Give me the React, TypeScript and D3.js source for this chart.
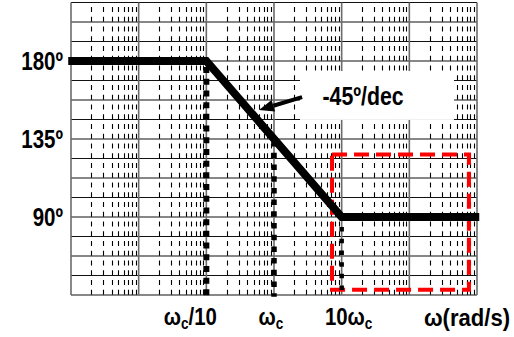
import { useEffect, useRef } from 'react';
import * as d3 from 'd3';

const W = 514;
const H = 337;

// decades of the log frequency axis (omega_c = 1)
const decades = [1e-3, 1e-2, 1e-1, 1, 10, 100, 1000];
const minorSteps = [2, 3, 4, 5, 6, 7, 8, 9];

// phase grid, one line every 11.25 deg
const phaseGrid = [
  45, 56.25, 67.5, 78.75, 90, 101.25, 112.5, 123.75, 135, 146.25, 157.5,
  168.75, 180, 191.25, 202.5, 213.75,
];
const phaseTicks = [180, 135, 90];
const phaseTickLabels = ['180º', '135º', '90º'];

// asymptotic phase curve
const asymW = [0.00091, 0.1, 10, 1080];
const asymPhase = [180, 180, 90, 90];

// dotted guides at the corner frequencies
const guideW = [0.1, 1, 10];
const guideTop = [176.5, 133.8, 84.2];
const guideWidth = [6, 5.5, 4.5];

// x labels: main part, subscript, trailing part
const xLabelW = [0.1, 1, 10];
const xLabelMain = ['ω', 'ω', '10ω'];
const xLabelSub = ['c', 'c', 'c'];
const xLabelTail = ['/10', '', ''];

// highlighted region (red dashed box)
const boxW = [7.2, 760];
const boxPhase = [48, 126];

// slope annotation
const noteBoxW = [2.42, 457];
const notePhase = [146, 174.2];
const noteTextW = 20.7;
const noteTextPhase = 154.6;
const noteText = '-45º/dec';
const arrowFrom = { w: 2.6, p: 159.2 };
const arrowTo = { w: 0.6, p: 151.7 };

export default function App() {
  const svgRef = useRef<SVGSVGElement | null>(null);

  useEffect(() => {
    const svgEl = svgRef.current;
    if (!svgEl) return;
    const svg = d3.select(svgEl);
    svg.selectAll('*').remove();

    const x = d3.scaleLog().domain([1e-3, 1e3]).range([71, 477]);
    const y = d3.scaleLinear().domain([45, 213.75]).range([295, 2.5]);
    const top = y(213.75);
    const bottom = y(45);
    const font = "'Liberation Sans', Arial, sans-serif";

    svg.append('rect').attr('width', W).attr('height', H).attr('fill', '#fff');

    const g = svg.append('g');

    // horizontal grid
    g.selectAll('line.h')
      .data(phaseGrid)
      .enter()
      .append('line')
      .attr('x1', x(1e-3))
      .attr('x2', x(1e3))
      .attr('y1', (d) => y(d))
      .attr('y2', (d) => y(d))
      .attr('stroke', '#111')
      .attr('stroke-width', 1.1);

    // minor log lines, dashed
    const minors: number[] = [];
    decades.slice(0, -1).forEach((d) => minorSteps.forEach((m) => minors.push(d * m)));
    g.selectAll('line.m')
      .data(minors)
      .enter()
      .append('line')
      .attr('x1', (d) => Math.round(x(d)) + 0.5)
      .attr('x2', (d) => Math.round(x(d)) + 0.5)
      .attr('y1', top + 4.5)
      .attr('y2', bottom)
      .attr('stroke', '#000')
      .attr('stroke-width', 1.1)
      .attr('stroke-dasharray', '5,4.75');

    // decade lines
    g.selectAll('line.d')
      .data(decades)
      .enter()
      .append('line')
      .attr('x1', (d) => x(d))
      .attr('x2', (d) => x(d))
      .attr('y1', top)
      .attr('y2', bottom)
      .attr('stroke', '#6b6b6b')
      .attr('stroke-width', 1.6);

    // annotation backing
    g.append('rect')
      .attr('x', x(noteBoxW[0]))
      .attr('y', y(notePhase[1]))
      .attr('width', x(noteBoxW[1]) - x(noteBoxW[0]))
      .attr('height', y(notePhase[0]) - y(notePhase[1]))
      .attr('fill', '#fff');

    // red dashed box
    g.append('rect')
      .attr('x', x(boxW[0]))
      .attr('y', y(boxPhase[1]))
      .attr('width', x(boxW[1]) - x(boxW[0]))
      .attr('height', y(boxPhase[0]) - y(boxPhase[1]))
      .attr('fill', 'none')
      .attr('stroke', '#ff0000')
      .attr('stroke-width', 4)
      .attr('stroke-dasharray', '15,7');

    // dotted guides
    guideW.forEach((w, i) => {
      g.append('line')
        .attr('x1', x(w))
        .attr('x2', x(w))
        .attr('y1', y(guideTop[i]))
        .attr('y2', y(44))
        .attr('stroke', '#000')
        .attr('stroke-width', guideWidth[i])
        .attr('stroke-dasharray', `${guideWidth[i]},${11.7 - guideWidth[i]}`);
    });

    // asymptote
    const pts = asymW.map((w, i) => [w, asymPhase[i]] as [number, number]);
    g.append('path')
      .datum(pts)
      .attr(
        'd',
        d3
          .line<[number, number]>()
          .x((d) => x(d[0]))
          .y((d) => y(d[1])),
      )
      .attr('fill', 'none')
      .attr('stroke', '#000')
      .attr('stroke-width', 8)
      .attr('stroke-linejoin', 'miter');

    // arrow
    const ax0 = x(arrowFrom.w);
    const ay0 = y(arrowFrom.p);
    const ax1 = x(arrowTo.w);
    const ay1 = y(arrowTo.p);
    const ang = Math.atan2(ay1 - ay0, ax1 - ax0);
    const headLen = 15;
    const headHalf = 6;
    const bx = ax1 - headLen * Math.cos(ang);
    const by = ay1 - headLen * Math.sin(ang);
    g.append('line')
      .attr('x1', ax0)
      .attr('y1', ay0)
      .attr('x2', bx)
      .attr('y2', by)
      .attr('stroke', '#000')
      .attr('stroke-width', 4);
    g.append('path')
      .attr(
        'd',
        `M${ax1},${ay1}L${bx - headHalf * Math.sin(ang)},${by + headHalf * Math.cos(ang)}L${bx + headHalf * Math.sin(ang)},${by - headHalf * Math.cos(ang)}Z`,
      )
      .attr('fill', '#000');

    // annotation text
    g.append('text')
      .attr('transform', `translate(${x(noteTextW)},${y(noteTextPhase)}) scale(0.82,1)`)
      .attr('text-anchor', 'middle')
      .attr('font-family', font)
      .attr('font-weight', 700)
      .attr('font-size', 26)
      .attr('fill', '#000')
      .text(noteText);

    // phase labels
    phaseTicks.forEach((p, i) => {
      g.append('text')
        .attr('transform', `translate(63,${y(p) + 9}) scale(0.82,1)`)
        .attr('text-anchor', 'end')
        .attr('font-family', font)
        .attr('font-weight', 700)
        .attr('font-size', 25)
        .attr('fill', '#000')
        .text(phaseTickLabels[i]);
    });

    // frequency labels
    const xOffsets = [-16, -3, 7];
    xLabelW.forEach((w, i) => {
      const t = g
        .append('text')
        .attr('transform', `translate(${x(w) + xOffsets[i]},${bottom + 30}) scale(0.85,1)`)
        .attr('text-anchor', 'middle')
        .attr('font-family', font)
        .attr('font-weight', 700)
        .attr('font-size', 24)
        .attr('fill', '#000');
      t.append('tspan').text(xLabelMain[i]);
      t.append('tspan').attr('font-size', 16).attr('dy', 4).text(xLabelSub[i]);
      if (xLabelTail[i]) t.append('tspan').attr('dy', -4).text(xLabelTail[i]);
    });

    g.append('text')
      .attr('transform', `translate(510,${bottom + 31}) scale(0.92,1)`)
      .attr('text-anchor', 'end')
      .attr('font-family', font)
      .attr('font-weight', 700)
      .attr('font-size', 24)
      .attr('fill', '#000')
      .text('ω(rad/s)');
  }, []);

  return (
    <svg
      ref={svgRef}
      width={W}
      height={H}
      style={{ position: 'absolute', left: 0, top: 0, display: 'block' }}
    />
  );
}
